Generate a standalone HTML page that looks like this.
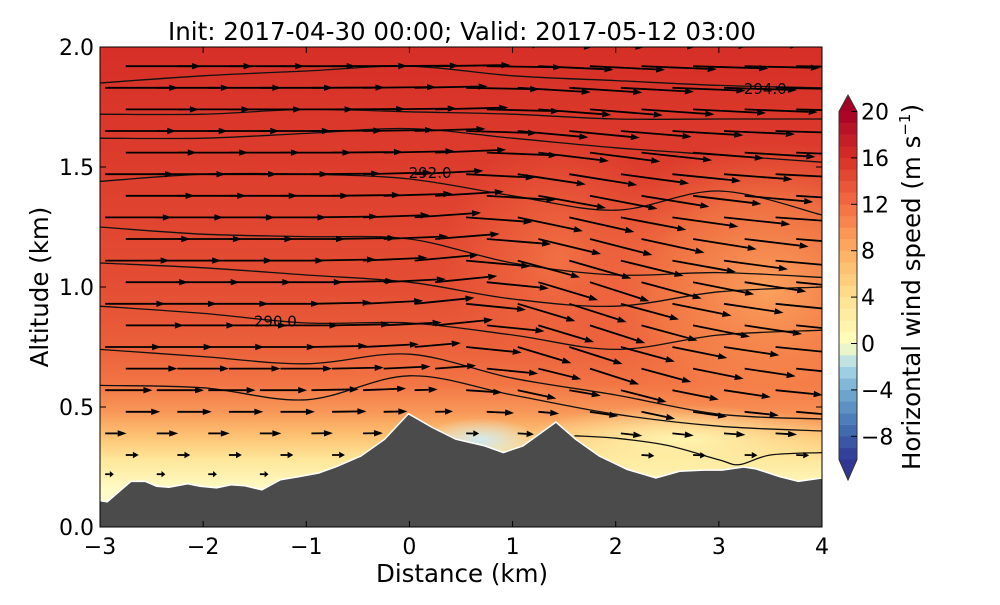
<!DOCTYPE html>
<html><head><meta charset="utf-8"><style>
body{margin:0;background:#fff;width:1000px;height:600px;overflow:hidden}
svg text{font-family:"DejaVu Sans","Liberation Sans",sans-serif;fill:#000}
</style></head><body>
<svg id="chart" width="1000" height="600" viewBox="0 0 1000 600" xmlns="http://www.w3.org/2000/svg">
<defs>
<clipPath id="plotclip"><rect x="100" y="47" width="722" height="480"/></clipPath>
<linearGradient id="bgv" x1="0" y1="0" x2="0" y2="1">
<stop offset="0" stop-color="#d62f27"/>
<stop offset="0.25" stop-color="#dd3d2d"/>
<stop offset="0.5" stop-color="#e44e34"/>
<stop offset="0.62" stop-color="#ea5f3a"/>
<stop offset="0.7" stop-color="#f27444"/>
<stop offset="0.76" stop-color="#f89858"/>
<stop offset="0.81" stop-color="#fdc272"/>
<stop offset="0.86" stop-color="#fee79a"/>
<stop offset="0.92" stop-color="#fffbc4"/>
<stop offset="1" stop-color="#f8fbd8"/>
</linearGradient>
<radialGradient id="orangeR"><stop offset="0" stop-color="#fca55f" stop-opacity="0.95"/><stop offset="0.6" stop-color="#f88a4c" stop-opacity="0.6"/><stop offset="1" stop-color="#f46d43" stop-opacity="0"/></radialGradient>
<radialGradient id="orangeM"><stop offset="0" stop-color="#f47a47" stop-opacity="0.8"/><stop offset="1" stop-color="#f46d43" stop-opacity="0"/></radialGradient>
<radialGradient id="blueR"><stop offset="0" stop-color="#cfe9f2" stop-opacity="1"/><stop offset="1" stop-color="#e8f5e8" stop-opacity="0"/></radialGradient>
<radialGradient id="yelR"><stop offset="0" stop-color="#fff5b0" stop-opacity="1"/><stop offset="1" stop-color="#fff5b0" stop-opacity="0"/></radialGradient>
</defs>
<text x="462" y="40" font-size="24.5" text-anchor="middle">Init: 2017-04-30 00:00; Valid: 2017-05-12 03:00</text>
<g clip-path="url(#plotclip)" id="plot">
<rect x="100" y="47" width="722" height="480" fill="url(#bgv)"/>
<ellipse cx="770" cy="290" rx="190" ry="150" fill="url(#orangeR)"/>
<ellipse cx="560" cy="260" rx="120" ry="120" fill="url(#orangeM)"/>
<ellipse cx="480" cy="440" rx="60" ry="22" fill="url(#blueR)"/>
<ellipse cx="680" cy="440" rx="160" ry="35" fill="url(#yelR)"/>
<g id="contours"></g>
<g id="arrows"></g>
<path id="terrain" fill="#4b4b4b" stroke="#fff" stroke-width="1.5"/>
</g>
<rect x="100" y="47" width="722" height="480" fill="none" stroke="#000" stroke-width="1"/>
<g id="axes"></g>
<text x="462" y="582" font-size="24.5" text-anchor="middle">Distance (km)</text>
<text transform="translate(48,287) rotate(-90)" font-size="24.5" text-anchor="middle">Altitude (km)</text>
<g id="cbar"></g>
<text transform="translate(920,287) rotate(-90)" font-size="24.5" text-anchor="middle">Horizontal wind speed (m s<tspan font-size="15" dy="-10">−1</tspan><tspan dy="10">)</tspan></text>
</svg>
<script>
const terrainX=[-3.0,-2.93,-2.70,-2.56,-2.45,-2.33,-2.15,-2.03,-1.87,-1.73,-1.60,-1.43,-1.25,-1.07,-0.88,-0.70,-0.47,-0.24,-0.01,0.22,0.45,0.73,0.91,1.10,1.42,1.61,1.84,2.11,2.39,2.62,2.85,3.03,3.24,3.36,3.59,3.77,4.0];
const terrainH=[0.11,0.105,0.19,0.19,0.17,0.166,0.18,0.17,0.163,0.176,0.172,0.155,0.197,0.21,0.225,0.253,0.296,0.366,0.472,0.415,0.366,0.338,0.31,0.338,0.437,0.366,0.296,0.24,0.204,0.232,0.237,0.237,0.25,0.242,0.21,0.19,0.204];
const contourX=[-3,-2,-1,0,1,2,3,4];
const contourLevels=[
[0.59,0.58,0.53,0.63,0.55,0.47,0.42,0.40],
[0.74,0.71,0.68,0.72,0.62,0.55,0.47,0.45],
[0.92,0.89,0.85,0.85,0.80,0.74,0.80,0.82],
[1.10,1.08,1.05,1.02,0.95,0.92,0.98,1.00],
[1.25,1.22,1.21,1.20,1.10,1.05,1.06,1.04],
[1.44,1.47,1.47,1.45,1.38,1.32,1.40,1.30],
[1.62,1.62,1.64,1.66,1.62,1.58,1.55,1.52],
[1.72,1.72,1.74,1.73,1.72,1.70,1.70,1.70],
[1.85,1.88,1.90,1.92,1.88,1.86,1.84,1.83]];
const contourLabels=["290.0","292.0","294.0"];
const labelX=[-1.3,0.2,3.45];
const labelAlt=[0.86,1.48,1.83];
const lowContourX=[1.6,2.0,2.5,3.0,3.2,3.5,4.0];
const lowContourH=[0.38,0.37,0.34,0.28,0.26,0.30,0.31];
const rowAlt=[0.22,0.30,0.39,0.48,0.57,0.66,0.75,0.84,0.93,1.02,1.11,1.20,1.29,1.38,1.47,1.56,1.65,1.74,1.83,1.92,2.01];
const rowSpeed=[2,3,5,8,11,12,13,13.5,14,14.5,15,15,15.5,16,16,16.5,16.5,17,17,17.5,17.5];
const rowTilt=[1,1,1,1,1,1,1,1,1,1,0.9,0.8,0.7,0.6,0.5,0.4,0.3,0.25,0.2,0.15,0.1];
const colX=[-3,-2.5,-2,-1.5,-1,-0.5,0,0.5,1,1.5,2,2.5,3,3.5,4];
const colSlope=[0,0,0,0,0.02,0.05,0.1,-0.1,-0.3,-0.32,-0.27,-0.2,-0.15,-0.1,-0.1];
const xTicks=[-3,-2,-1,0,1,2,3,4];
const yTicks=[0,0.5,1,1.5,2];
const cbTicks=[20,16,12,8,4,0,-4,-8];

const NS="http://www.w3.org/2000/svg";
const X=v=>100+(v+3)*722/7;
const Y=a=>527-a*240;
function mk(t,attrs,parent){const e=document.createElementNS(NS,t);for(const k in attrs)e.setAttribute(k,attrs[k]);parent.appendChild(e);return e;}
function terrainAt(x){for(let i=0;i<terrainX.length-1;i++){if(x>=terrainX[i]&&x<=terrainX[i+1]){const f=(x-terrainX[i])/(terrainX[i+1]-terrainX[i]);return terrainH[i]+f*(terrainH[i+1]-terrainH[i]);}}return 0.2;}
function smooth(pts){let p="M"+pts[0][0].toFixed(1)+","+pts[0][1].toFixed(1);
  for(let i=0;i<pts.length-1;i++){const p0=pts[Math.max(0,i-1)],p1=pts[i],p2=pts[i+1],p3=pts[Math.min(pts.length-1,i+2)];
    const c1x=p1[0]+(p2[0]-p0[0])/6,c1y=p1[1]+(p2[1]-p0[1])/6,c2x=p2[0]-(p3[0]-p1[0])/6,c2y=p2[1]-(p3[1]-p1[1])/6;
    p+=` C${c1x.toFixed(1)},${c1y.toFixed(1)} ${c2x.toFixed(1)},${c2y.toFixed(1)} ${p2[0].toFixed(1)},${p2[1].toFixed(1)}`;}
  return p;}

let d="M"+X(-3.1)+","+Y(-0.1)+" L"+X(-3.1)+","+Y(terrainH[0]);
terrainX.forEach((x,i)=>{d+=" L"+X(x).toFixed(1)+","+Y(terrainH[i]).toFixed(1);});
d+=" L"+X(4.1)+","+Y(terrainH[terrainH.length-1])+" L"+X(4.1)+","+Y(-0.1)+"Z";
document.getElementById('terrain').setAttribute('d',d);

const cg=document.getElementById('contours');
contourLevels.forEach((lv)=>{
  const e=mk('path',{d:smooth(lv.map((a,j)=>[X(contourX[j]),Y(a)])),fill:'none',stroke:'#111','stroke-width':1.3},cg);
  
  
});
{const e=mk('path',{d:smooth(lowContourX.map((x,j)=>[X(x),Y(lowContourH[j])])),fill:'none',stroke:'#111','stroke-width':1.3},cg);

}
contourLabels.forEach((t,i)=>{
  const e=mk('text',{x:X(labelX[i]),y:Y(labelAlt[i])+6,'font-size':15,'text-anchor':'middle'},cg);
  e.textContent=t;
  
  
});

const ag=document.getElementById('arrows');
rowAlt.forEach((a,r)=>{
  const off=(r%2)?0.25:0.05;
  colX.forEach((cx,c)=>{
    const x=cx+off;
    if(x>4)return;
    const th=terrainAt(x);
    if(a<th+0.02)return;
    let sp=rowSpeed[r];
    const near=a-th;
    if(near<0.3)sp=Math.min(sp,2+near*30);
    const L=sp*4.3;
    const s=colSlope[c]*Math.min(1,near*3)*rowTilt[r];
    const ang=Math.atan(s);
    const x0=X(x),y0=Y(a);
    const dx=Math.cos(ang),dy=-Math.sin(ang);
    const ex=x0+L*dx,ey=y0+L*dy;
    const hl=Math.min(9,L*0.45),hw=3.2;
    const bx=ex-hl*dx,by=ey-hl*dy;
    const g=mk('g',{},ag);
    
    
    mk('line',{x1:x0,y1:y0,x2:bx,y2:by,stroke:'#000','stroke-width':1.8},g);
    mk('polygon',{points:`${ex},${ey} ${bx-hw*dy},${by+hw*dx} ${bx+hw*dy},${by-hw*dx}`,fill:'#000'},g);
  });
});

const ax=document.getElementById('axes');
xTicks.forEach(v=>{
  const e=mk('text',{x:X(v),y:554,'font-size':22,'text-anchor':'middle'},ax);
  e.textContent=v<0?"−"+(-v):String(v);
  
  
  mk('line',{x1:X(v),y1:527,x2:X(v),y2:521,stroke:'#000'},ax);
  mk('line',{x1:X(v),y1:47,x2:X(v),y2:53,stroke:'#000'},ax);
});
yTicks.forEach(v=>{
  const e=mk('text',{x:94,y:Y(v)+8,'font-size':22,'text-anchor':'end'},ax);
  e.textContent=v.toFixed(1);
  
  
  mk('line',{x1:100,y1:Y(v),x2:106,y2:Y(v),stroke:'#000'},ax);
  mk('line',{x1:822,y1:Y(v),x2:816,y2:Y(v),stroke:'#000'},ax);
});

const cb=document.getElementById('cbar');
const CY=v=>343.5-v*11.6;
const stops=[[-10,[49,54,149]],[-7,[69,117,180]],[-4,[116,173,209]],[-2,[171,217,233]],[0,[255,255,191]],[4,[254,224,144]],[8,[253,174,97]],[12,[244,109,67]],[16,[215,48,39]],[20,[165,0,38]]];
function col(v){for(let i=0;i<stops.length-1;i++){if(v>=stops[i][0]&&v<=stops[i+1][0]){const f=(v-stops[i][0])/(stops[i+1][0]-stops[i][0]);const c=stops[i][1].map((q,k)=>Math.round(q+f*(stops[i+1][1][k]-q)));return `rgb(${c})`;}}return 'rgb(165,0,38)';}
for(let v=-10;v<20;v+=1){
  const e=mk('rect',{x:839,y:CY(v+1),width:18,height:11.8,fill:col(v+0.5)},cb);
  
  
}
mk('polygon',{points:`839,${CY(20)} 857,${CY(20)} 848,95`,fill:col(20)},cb);
mk('polygon',{points:`839,${CY(-10)} 857,${CY(-10)} 848,480`,fill:col(-10)},cb);
mk('path',{d:`M839,${CY(20)} L848,95 L857,${CY(20)} L857,${CY(-10)} L848,480 L839,${CY(-10)}Z`,fill:'none',stroke:'#333','stroke-width':1},cb);
cbTicks.forEach(v=>{
  mk('line',{x1:851,y1:CY(v),x2:857,y2:CY(v),stroke:'#000'},cb);
  const e=mk('text',{x:861,y:CY(v)+8,'font-size':22},cb);
  e.textContent=v<0?"−"+(-v):String(v);
  
  
});
</script>
</body></html>
